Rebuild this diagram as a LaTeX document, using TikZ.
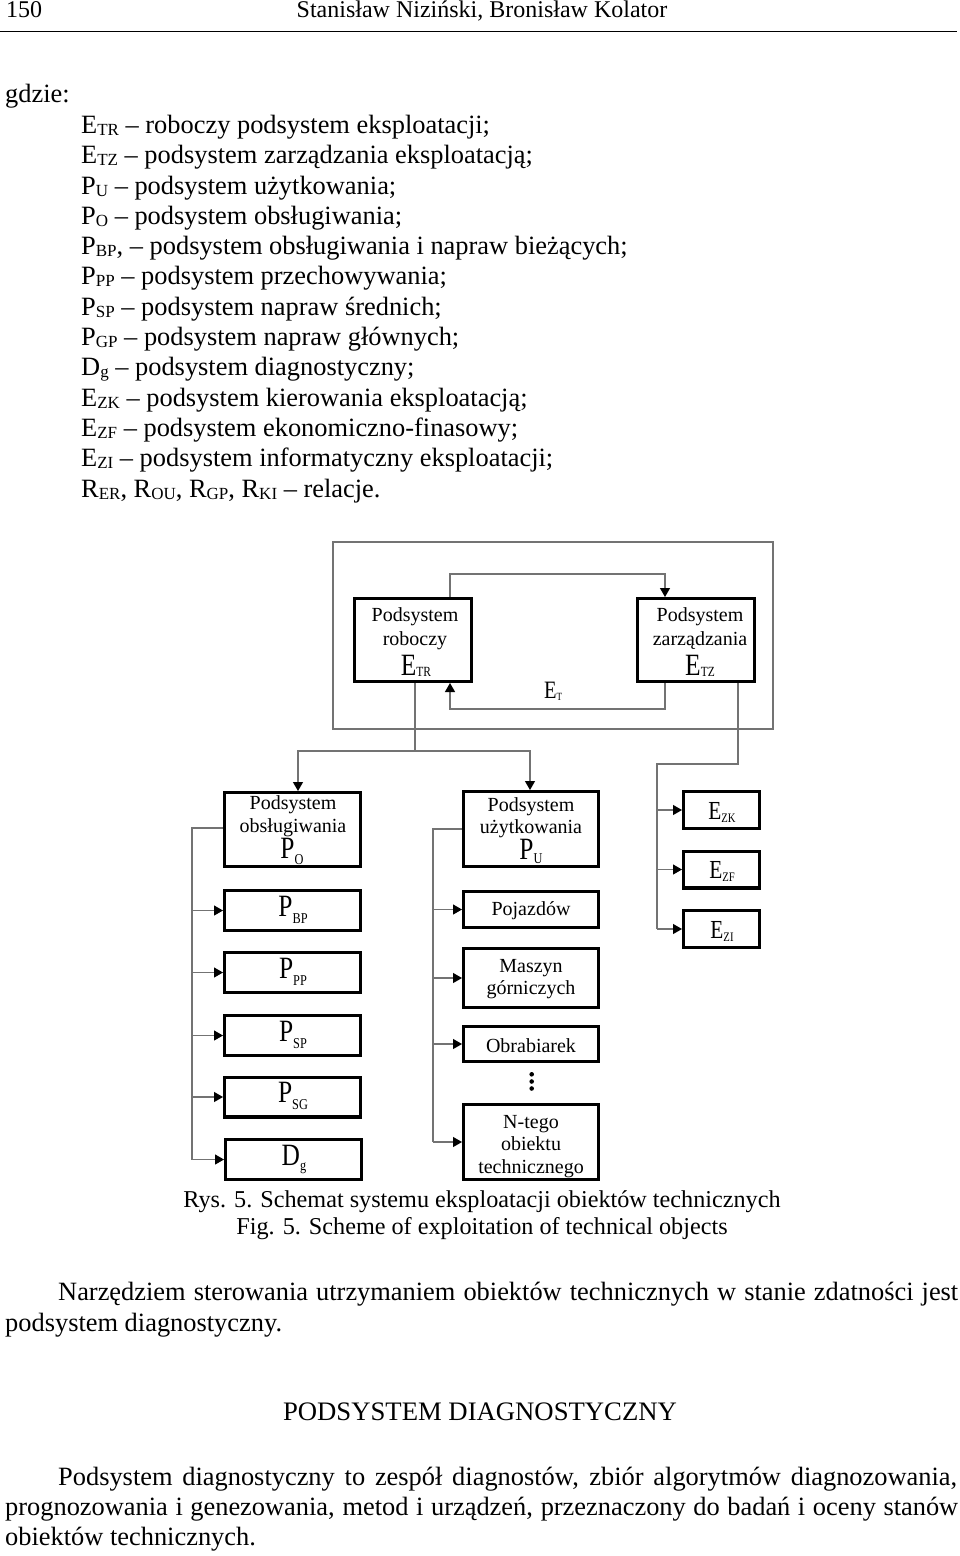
\documentclass[tikz,border=0pt]{standalone}
\usepackage{fontspec}
\setmainfont{Liberation Serif}
\newfontfamily\cond{Liberation Serif}[FakeStretch=0.82]
\usetikzlibrary{arrows.meta}
\newcommand\lsub[1]{\raisebox{-2pt}{\fontsize{17}{17}\selectfont #1}}
\newcommand\bsub[3]{\raisebox{#1}{\cond\fontsize{#2}{#2}\selectfont #3}}
\begin{document}
\begin{tikzpicture}[x=1pt,y=-1pt,
  body/.style={inner sep=0pt, anchor=base west, font=\fontsize{26.4}{30}\selectfont},
  capt/.style={inner sep=0pt, anchor=base, font=\fontsize{24.2}{28}\selectfont},
  head/.style={inner sep=0pt, font=\fontsize{24}{26}\selectfont},
  box/.style={draw=black, line width=3.4pt, inner sep=0pt, outer sep=1.7pt},
  bt/.style={inner sep=0pt, anchor=base, font=\fontsize{20}{22}\selectfont},
  bigl/.style={inner sep=0pt, anchor=base, font=\cond\fontsize{31}{33}\selectfont},
  midl/.style={inner sep=0pt, anchor=base, font=\cond\fontsize{26}{28}\selectfont},
  conn/.style={draw=black!55, line width=1.2pt},
  arr/.style={conn, -{Triangle[length=9pt,width=10pt,color=black]}},
  frame/.style={draw=black!55, line width=1.2pt, inner sep=0pt}]
\useasboundingbox (0,0) rectangle (960,1556);

% ---------- header ----------
\node[head, anchor=base west] (pg) at (6,17.3) {150};
\node[head, anchor=base] (auth) at (482,17.3) {Stanisław Niziński, Bronisław Kolator};
\draw[line width=1.3pt] (0,31.7) -- (957,31.7);

% ---------- list ----------
\node[body] (gdzie) at (5,102) {gdzie:};
\node[body] (l0)  at (81,133.3) {E\lsub{TR} – roboczy podsystem eksploatacji;};
\node[body] (l1)  at (81,163.6) {E\lsub{TZ} – podsystem zarządzania eksploatacją;};
\node[body] (l2)  at (81,194.0) {P\lsub{U} – podsystem użytkowania;};
\node[body] (l3)  at (81,224.3) {P\lsub{O} – podsystem obsługiwania;};
\node[body] (l4)  at (81,254.6) {P\lsub{BP}, – podsystem obsługiwania i napraw bieżących;};
\node[body] (l5)  at (81,284.9) {P\lsub{PP} – podsystem przechowywania;};
\node[body] (l6)  at (81,315.3) {P\lsub{SP} – podsystem napraw średnich;};
\node[body] (l7)  at (81,345.6) {P\lsub{GP} – podsystem napraw głównych;};
\node[body] (l8)  at (81,375.9) {D\lsub{g} – podsystem diagnostyczny;};
\node[body] (l9)  at (81,406.3) {E\lsub{ZK} – podsystem kierowania eksploatacją;};
\node[body] (l10) at (81,436.6) {E\lsub{ZF} – podsystem ekonomiczno-finasowy;};
\node[body] (l11) at (81,466.9) {E\lsub{ZI} – podsystem informatyczny eksploatacji;};
\node[body] (l12) at (81,497.3) {R\lsub{ER}, R\lsub{OU}, R\lsub{GP}, R\lsub{KI} – relacje.};

% ---------- diagram: E_T ----------
\node[frame, minimum width=440pt, minimum height=187pt] (et) at (553,635.5) {};
\node[box, minimum width=116.6pt, minimum height=82.6pt] (etr) at (413,640) {};
\node[box, minimum width=116.6pt, minimum height=82.6pt] (etz) at (696,640) {};
\node[bt] (etr1) at (415,621) {Podsystem};
\node[bt] (etr2) at (415,645) {roboczy};
\node[bigl] (etr3) at (416,675) {E\bsub{-1pt}{14}{TR}};
\node[bt] (etz1) at (700,621) {Podsystem};
\node[bt] (etz2) at (700,645) {zarządzania};
\node[bigl] (etz3) at (700,675) {E\bsub{-1pt}{14}{TZ}};
\node[inner sep=0pt, anchor=base west, font=\cond\fontsize{25}{27}\selectfont] (etl) at (544,698.3) {E\bsub{-2pt}{11}{T}};

\coordinate (t1) at (450,574);
\coordinate (t2) at (665,574);
\draw[arr] (etr.north -| t1) -- (t1) -- (t2) -- (etz.north -| t2);
\coordinate (u1) at (665,709);
\coordinate (u2) at (450,709);
\draw[arr] (etz.south -| u1) -- (u1) -- (u2) -- (etr.south -| u2);

% ---------- lower boxes ----------
\node[box, minimum width=135.6pt, minimum height=73.6pt] (po)  at (292.5,829.5) {};
\node[box, minimum width=135.6pt, minimum height=39.6pt] (pbp) at (292.5,910.5) {};
\node[box, minimum width=135.6pt, minimum height=39.6pt] (ppp) at (292.5,972.5) {};
\node[box, minimum width=135.6pt, minimum height=39.6pt] (psp) at (292.5,1035.5) {};
\node[box, minimum width=135.6pt, minimum height=39.6pt] (psg) at (292.5,1097) {};
\node[box, minimum width=135.6pt, minimum height=39.6pt] (dg)  at (293.5,1159.5) {};

\node[box, minimum width=134.6pt, minimum height=74.6pt] (pu)   at (531,829) {};
\node[box, minimum width=134.6pt, minimum height=35.6pt] (poj)  at (531,909.5) {};
\node[box, minimum width=134.6pt, minimum height=58.6pt] (masz) at (531,978) {};
\node[box, minimum width=134.6pt, minimum height=34.6pt] (obr)  at (531,1044) {};
\node[box, minimum width=134.6pt, minimum height=74.6pt] (nte)  at (531,1142) {};

\node[box, minimum width=75.6pt, minimum height=36.6pt] (ezk) at (721.5,810) {};
\node[box, minimum width=75.6pt, minimum height=36.6pt] (ezf) at (721.5,869.5) {};
\node[box, minimum width=75.6pt, minimum height=36.6pt] (ezi) at (721.5,929) {};

% texts
\node[bt] (po1) at (293,809) {Podsystem};
\node[bt] (po2) at (293,832) {obsługiwania};
\node[bigl] (po3) at (292,858) {P\bsub{-6pt}{15}{O}};
\node[bigl] (pbp1) at (293,916) {P\bsub{-7pt}{15}{BP}};
\node[bigl] (ppp1) at (293,978) {P\bsub{-7pt}{15}{PP}};
\node[bigl] (psp1) at (293,1041) {P\bsub{-7pt}{15}{SP}};
\node[bigl] (psg1) at (293,1102.5) {P\bsub{-7pt}{15}{SG}};
\node[bigl] (dg1)  at (294,1165) {D\bsub{-5pt}{15}{g}};

\node[bt] (pu1) at (531,811) {Podsystem};
\node[bt] (pu2) at (531,833) {użytkowania};
\node[bigl] (pu3) at (531,859) {P\bsub{-4pt}{15}{U}};
\node[bt] (poj1) at (531,915) {Pojazdów};
\node[bt] (ma1) at (531,972) {Maszyn};
\node[bt] (ma2) at (531,994) {górniczych};
\node[bt] (ob1) at (531,1052) {Obrabiarek};
\node[bt] (nt1) at (531,1128) {N-tego};
\node[bt] (nt2) at (531,1150) {obiektu};
\node[bt] (nt3) at (531,1173) {technicznego};

\node[midl] (ezk1) at (722,819) {E\bsub{-3pt}{13}{ZK}};
\node[midl] (ezf1) at (722,878.5) {E\bsub{-3pt}{13}{ZF}};
\node[midl] (ezi1) at (722,938) {E\bsub{-3pt}{13}{ZI}};

% dots
\fill (531.7,1074.3) circle (2.3pt);
\fill (531.7,1081.5) circle (2.3pt);
\fill (531.7,1088.5) circle (2.3pt);

% connectors from E_TR to P_O / P_U
\coordinate (b0) at (415,751);
\coordinate (bl) at (298,751);
\coordinate (br) at (530,751);
\draw[conn] (etr.south -| b0) -- (b0);
\draw[arr] (b0) -- (bl) -- (po.north -| bl);
\draw[arr] (b0) -- (br) -- (pu.north -| br);

% connectors from E_TZ
\coordinate (z1) at (738,764);
\coordinate (z2) at (657,764);
\draw[conn] (etz.south -| z1) -- (z1) -- (z2) -- (z2 |- ezi.west);
\draw[arr] (z2 |- ezk.west) -- (ezk.west);
\draw[arr] (z2 |- ezf.west) -- (ezf.west);
\draw[arr] (z2 |- ezi.west) -- (ezi.west);

% P_O branch
\coordinate (lx) at (192,828);
\draw[conn] (po.west |- lx) -- (lx) -- (lx |- dg.west);
\draw[arr] (lx |- pbp.west) -- (pbp.west);
\draw[arr] (lx |- ppp.west) -- (ppp.west);
\draw[arr] (lx |- psp.west) -- (psp.west);
\draw[arr] (lx |- psg.west) -- (psg.west);
\draw[arr] (lx |- dg.west) -- (dg.west);

% P_U branch
\coordinate (rx) at (433,829);
\draw[conn] (pu.west |- rx) -- (rx) -- (rx |- nte.west);
\draw[arr] (rx |- poj.west) -- (poj.west);
\draw[arr] (rx |- masz.west) -- (masz.west);
\draw[arr] (rx |- obr.west) -- (obr.west);
\draw[arr] (rx |- nte.west) -- (nte.west);

% ---------- caption and text ----------
\node[capt] (cap1) at (482,1207) {Rys. 5. Schemat systemu eksploatacji obiektów technicznych};
\node[capt] (cap2) at (482,1234) {Fig. 5. Scheme of exploitation of technical objects};

\node[body] (p1a) at (58,1300.7) {\makebox[900pt][s]{Narzędziem sterowania utrzymaniem obiektów technicznych w stanie zdatności jest}};
\node[body] (p1b) at (5,1331.7) {podsystem diagnostyczny.};

\node[body, anchor=base, font=\fontsize{26.7}{30}\selectfont] (hd) at (480,1420.3) {PODSYSTEM DIAGNOSTYCZNY};

\node[body] (p2a) at (58,1485) {\makebox[899pt][s]{Podsystem diagnostyczny to zespół diagnostów, zbiór algorytmów diagnozowania,}};
\node[body] (p2b) at (5,1515) {\makebox[953pt][s]{prognozowania i genezowania, metod i urządzeń, przeznaczony do badań i oceny stanów}};
\node[body] (p2c) at (5,1545) {obiektów technicznych.};
\end{tikzpicture}
\end{document}
